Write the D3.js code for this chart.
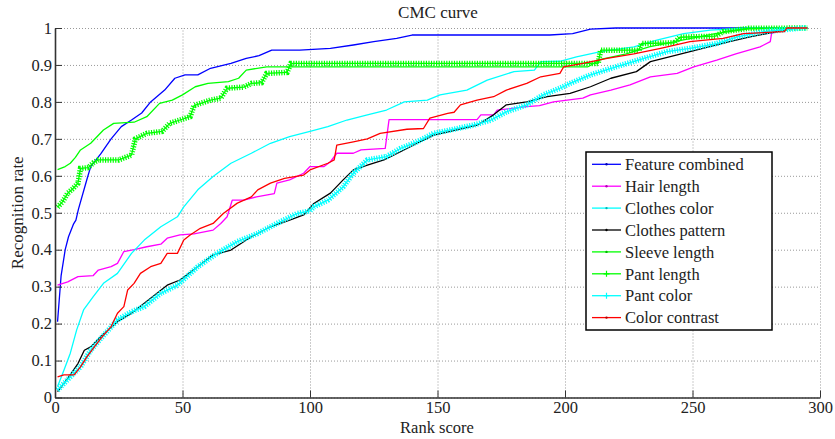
<!DOCTYPE html>
<html>
<head>
<meta charset="utf-8">
<script src="https://cdn.jsdelivr.net/npm/d3@7"></script>
<style>
  body { margin: 0; background: #fff; }
  text { font-family: "Liberation Serif", "Times New Roman", serif; fill: #222; }
</style>
</head>
<body>
<div id="chart"></div>
<script>
// legend names, in plotting order
const seriesNames = ["Feature combined", "Hair length", "Clothes color", "Clothes pattern",
  "Sleeve length", "Pant length", "Pant color", "Color contrast"];

// [rank, recognition rate] (breakpoints of each curve)
const featureCombined = [[1,0.205],[2.4,0.33],[4,0.40],[5.3,0.435],[7.3,0.47],[8.2,0.48],[9.2,0.51],[12.5,0.59],[14,0.625],[18,0.66],[22,0.70],[26,0.733],[30,0.751],[34,0.77],[37.5,0.80],[43,0.832],[47,0.864],[51,0.873],[56,0.873],[61,0.891],[69,0.904],[75,0.918],[80,0.925],[85,0.94],[96,0.94],[108,0.945],[117,0.954],[125,0.963],[134,0.972],[140,0.981],[194,0.981],[203,0.985],[210,0.997],[220,1],[295,1]];
const hairLength = [[1,0.304],[5,0.313],[9,0.327],[15,0.33],[17,0.345],[22,0.354],[24.5,0.363],[27,0.395],[31,0.40],[36,0.408],[41.5,0.415],[44,0.431],[49,0.44],[54.5,0.443],[62,0.453],[65,0.471],[67.5,0.489],[69.5,0.534],[74,0.534],[79,0.543],[86,0.552],[87,0.58],[92,0.589],[97.5,0.607],[100,0.625],[105.5,0.625],[108,0.638],[110.5,0.661],[117,0.661],[120,0.67],[129.5,0.674],[131,0.752],[165.5,0.752],[167,0.765],[172,0.765],[173.5,0.778],[185,0.787],[190,0.79],[195.5,0.80],[207,0.81],[210,0.819],[218,0.832],[225.5,0.846],[233.5,0.868],[244,0.877],[250.5,0.895],[259.5,0.913],[267,0.93],[276.5,0.949],[280.5,0.963],[281,0.985],[286,1],[295,1]];
const clothesColor = [[1,0.03],[3.5,0.074],[6,0.12],[8.5,0.183],[11.2,0.237],[15,0.273],[19,0.309],[24.5,0.336],[30,0.39],[35,0.426],[41.5,0.462],[48,0.489],[50.5,0.516],[56,0.562],[62,0.598],[69,0.634],[77,0.661],[84.5,0.688],[92,0.706],[100,0.72],[107,0.733],[114.5,0.751],[122.5,0.765],[130,0.778],[137,0.80],[146,0.805],[151,0.819],[161.5,0.832],[169.5,0.859],[180,0.882],[188,0.886],[190.5,0.909],[198,0.91],[204.5,0.922],[214,0.936],[227,0.949],[236,0.967],[246.5,0.985],[257,0.994],[272,1],[295,1]];
const clothesPattern = [[1,0.016],[5,0.052],[9,0.092],[11.5,0.128],[14,0.137],[18,0.165],[24.5,0.205],[30,0.228],[35,0.255],[40,0.282],[44,0.304],[49,0.318],[56,0.354],[62,0.386],[69,0.399],[77,0.435],[84.5,0.462],[92,0.48],[97.5,0.494],[101.5,0.525],[108,0.553],[113,0.589],[117,0.616],[122.5,0.629],[129,0.643],[135.5,0.665],[142,0.688],[148.5,0.71],[155,0.72],[165.5,0.737],[172,0.765],[177,0.792],[185,0.80],[193,0.814],[202,0.823],[210,0.841],[218,0.864],[228,0.882],[233.5,0.909],[244,0.927],[254,0.945],[264.5,0.963],[272.5,0.976],[283,0.99],[290,1],[295,1]];
const sleeveLength = [[1,0.617],[4,0.625],[6,0.634],[8,0.65],[10,0.67],[14,0.688],[19,0.724],[23,0.742],[31,0.745],[36,0.76],[41,0.796],[46,0.805],[50,0.819],[55,0.841],[60,0.85],[68,0.855],[72,0.864],[75,0.886],[83,0.895],[209,0.895],[214,0.915],[224,0.93],[233,0.949],[246,0.967],[259,0.985],[272,0.998],[295,1]];
const pantLength = [[1,0.515],[3,0.53],[5,0.553],[7,0.565],[9,0.58],[10,0.62],[13,0.622],[15,0.635],[17,0.643],[25,0.643],[30,0.656],[31.5,0.70],[36,0.715],[42,0.72],[45,0.742],[49,0.751],[53,0.76],[54.5,0.79],[61,0.805],[65,0.81],[67.5,0.837],[74,0.84],[77,0.85],[81,0.852],[83,0.877],[91,0.88],[92.5,0.904],[213,0.904],[214,0.94],[229,0.94],[230,0.958],[243,0.96],[245,0.975],[259,0.978],[262,0.99],[272,0.999],[295,1]];
const pantColor = [[1,0.02],[6,0.056],[10,0.083],[14,0.128],[18,0.16],[24.5,0.21],[30,0.232],[35,0.246],[41.5,0.282],[48,0.304],[56,0.354],[63.5,0.39],[71.5,0.422],[79.5,0.444],[87,0.471],[95,0.498],[100,0.505],[101.5,0.516],[107,0.534],[113,0.57],[117,0.607],[122.5,0.643],[130,0.652],[135.5,0.674],[142,0.692],[148.5,0.715],[155,0.724],[164,0.737],[171,0.751],[177,0.773],[185,0.792],[191.5,0.819],[198,0.837],[202,0.85],[210,0.873],[220,0.895],[231,0.918],[240,0.936],[249,0.945],[259.5,0.958],[267.5,0.976],[278,0.99],[293,1],[295,1]];
const colorContrast = [[1,0.056],[3.5,0.061],[7.5,0.061],[10,0.083],[12.5,0.11],[15,0.133],[18,0.16],[22,0.192],[24.5,0.228],[27,0.246],[28.5,0.291],[31,0.309],[33.5,0.336],[37.5,0.354],[41.5,0.363],[44,0.39],[48,0.39],[50.5,0.426],[53,0.44],[57,0.458],[62,0.471],[66,0.498],[71.5,0.526],[77,0.543],[79.5,0.562],[84.5,0.58],[90,0.593],[97.5,0.602],[100,0.616],[107,0.634],[109.5,0.643],[110.5,0.683],[117,0.692],[122.5,0.70],[127.5,0.715],[138,0.726],[144.5,0.728],[147,0.756],[154,0.769],[156.5,0.772],[159,0.792],[165.5,0.805],[172,0.814],[177,0.832],[185,0.85],[190.5,0.868],[198,0.877],[199.5,0.895],[207,0.904],[216.5,0.918],[227,0.93],[237.5,0.945],[249,0.963],[262,0.972],[270,0.985],[286,0.99],[287,1],[295,1]];

const seriesValues = [featureCombined, hairLength, clothesColor, clothesPattern,
  sleeveLength, pantLength, pantColor, colorContrast];

// axis ticks
const xTicks = [0, 50, 100, 150, 200, 250, 300];
const xTickLabels = ["0", "50", "100", "150", "200", "250", "300"];
const yTicks = [0, 0.1, 0.2, 0.3, 0.4, 0.5, 0.6, 0.7, 0.8, 0.9, 1];
const yTickLabels = ["0", "0.1", "0.2", "0.3", "0.4", "0.5", "0.6", "0.7", "0.8", "0.9", "1"];

// styles
const seriesColors = ["#0000ff", "#ff00ff", "#00ffff", "#000000", "#00ff00", "#00ff00", "#00ffff", "#ff0000"];
const seriesMarker = ["dot", "dot", "dot", "dot", "dot", "plus", "plus", "dot"];

const W = 835, H = 439;
const margin = { top: 28, right: 15, bottom: 41.5, left: 55 };
const width = W - margin.left - margin.right,
  height = H - margin.top - margin.bottom;

const svg = d3.select("#chart").append("svg")
  .attr("width", W).attr("height", H);

const x = d3.scaleLinear().domain([0, 300]).range([margin.left, margin.left + width]);
const y = d3.scaleLinear().domain([0, 1]).range([margin.top + height, margin.top]);

// dotted grid
svg.append("g")
  .attr("transform", `translate(0,${margin.top + height})`)
  .call(d3.axisBottom(x).tickValues(xTicks).tickSize(-height).tickFormat(""))
  .call(g => g.select(".domain").remove())
  .selectAll("line").attr("stroke", "#999").attr("stroke-dasharray", "1,2");
svg.append("g")
  .attr("transform", `translate(${margin.left},0)`)
  .call(d3.axisLeft(y).tickValues(yTicks).tickSize(-width).tickFormat(""))
  .call(g => g.select(".domain").remove())
  .selectAll("line").attr("stroke", "#999").attr("stroke-dasharray", "1,2");

// curves
const line = d3.line().x(d => x(d[0])).y(d => y(d[1]));
const curves = svg.append("g");
seriesValues.forEach((vals, i) => {
  if (seriesMarker[i] === "plus") {
    curves.append("path")
      .attr("d", line(vals))
      .attr("fill", "none")
      .attr("stroke", seriesColors[i])
      .attr("stroke-width", 5.5)
      .attr("stroke-dasharray", "1.2,1.35");
  }
  curves.append("path")
    .attr("d", line(vals))
    .attr("fill", "none")
    .attr("stroke", seriesColors[i])
    .attr("stroke-width", 1.3)
    .attr("stroke-linejoin", "round");
});

// axes
const xAxis = svg.append("g")
  .attr("transform", `translate(0,${margin.top + height})`)
  .call(d3.axisBottom(x).tickValues(xTicks).tickFormat((d, i) => xTickLabels[i])
    .tickSizeInner(-7).tickSizeOuter(0).tickPadding(4));
const yAxis = svg.append("g")
  .attr("transform", `translate(${margin.left},0)`)
  .call(d3.axisLeft(y).tickValues(yTicks).tickFormat((d, i) => yTickLabels[i])
    .tickSizeInner(-7).tickSizeOuter(0).tickPadding(3));
[xAxis, yAxis].forEach(g => {
  g.select(".domain").attr("stroke", "#333").attr("stroke-width", 1.6);
  g.selectAll(".tick line").attr("stroke", "#333");
  g.selectAll("text").attr("font-size", 16.5).attr("font-family", null).attr("fill", "#222");
});

// title and labels
svg.append("text")
  .attr("x", 438).attr("y", 18)
  .attr("text-anchor", "middle").attr("font-size", 17)
  .text("CMC curve");
svg.append("text")
  .attr("x", 437).attr("y", 432.5)
  .attr("text-anchor", "middle").attr("font-size", 16.5)
  .text("Rank score");
svg.append("text")
  .attr("transform", `translate(23,${margin.top + height / 2}) rotate(-90)`)
  .attr("text-anchor", "middle").attr("font-size", 17)
  .text("Recognition rate");

// legend
const lg = svg.append("g");
lg.append("rect")
  .attr("x", 586).attr("y", 152).attr("width", 186).attr("height", 178)
  .attr("fill", "#fff").attr("stroke", "#000").attr("stroke-width", 1.5);
seriesNames.forEach((name, i) => {
  const ly = 164.3 + i * 21.9;
  lg.append("line")
    .attr("x1", 592).attr("x2", 621).attr("y1", ly).attr("y2", ly)
    .attr("stroke", seriesColors[i]).attr("stroke-width", 1.3);
  if (seriesMarker[i] === "plus") {
    lg.append("path")
      .attr("d", `M603.5,${ly}h6M606.5,${ly - 3}v6`)
      .attr("stroke", seriesColors[i]).attr("stroke-width", 1.2);
  } else {
    lg.append("circle")
      .attr("cx", 606.5).attr("cy", ly).attr("r", 1.2)
      .attr("fill", d3.color(seriesColors[i]).darker(1));
  }
  lg.append("text")
    .attr("x", 625).attr("y", ly).attr("dy", "0.35em")
    .attr("font-size", 16.5)
    .text(name);
});
</script>
</body>
</html>
